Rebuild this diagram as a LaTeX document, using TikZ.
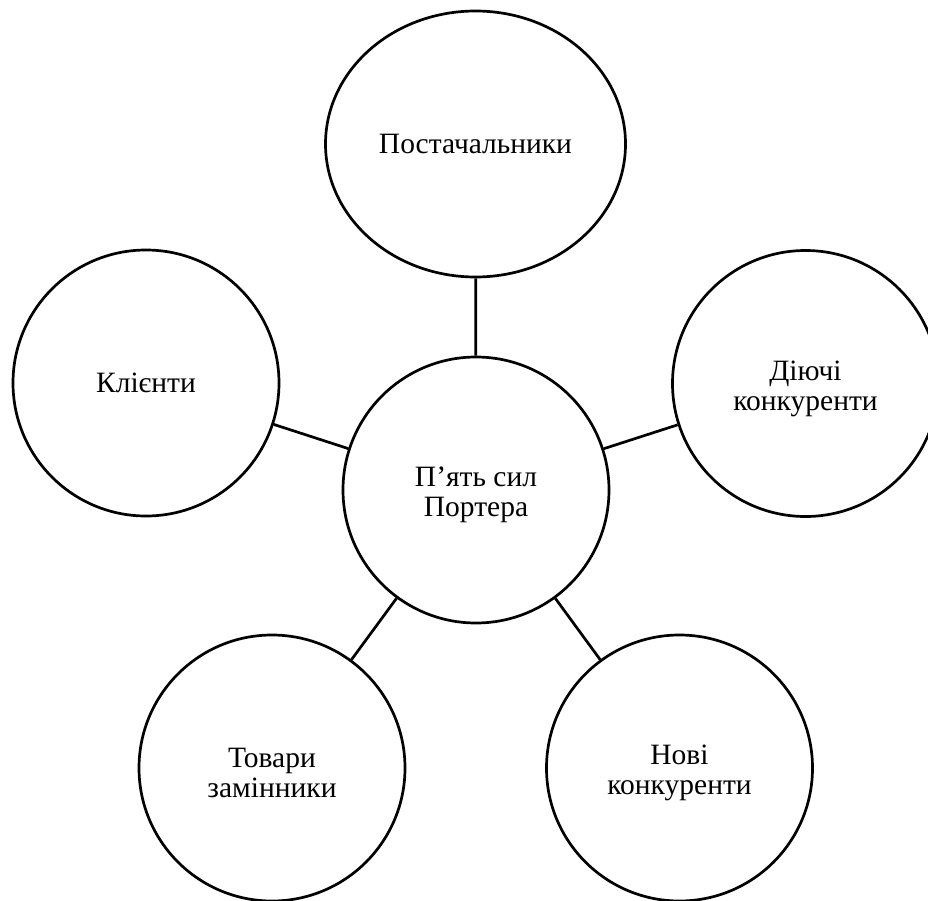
\documentclass[tikz,border=0pt]{standalone}
\usepackage{fontspec}
\setmainfont{Liberation Serif}
\usetikzlibrary{shapes.geometric}
\tikzset{
  force/.style={draw=black, line width=2.7bp, circle, minimum size=266bp, inner sep=0pt, align=center,
    font=\fontsize{29.5bp}{30bp}\selectfont},
  forceoval/.style={force, ellipse, minimum width=300bp, minimum height=266bp},
  link/.style={draw=black, line width=2.7bp}
}
\begin{document}
\begin{tikzpicture}[x=1bp,y=-1bp]
\useasboundingbox (0,0) rectangle (928,901);
\clip (0,0) rectangle (928,901);
\node[force] (center) at (476,490) {\rule{0pt}{30bp}П’ять сил\\Портера};
\node[forceoval] (top) at (475.5,144) {Постачальники};
\node[force] (left) at (146,383) {Клієнти};
\node[force] (right) at (805.5,383.5) {\rule{0pt}{30bp}Діючі\\конкуренти};
\node[force] (bl) at (272,768) {\rule{0pt}{30bp}Товари\\замінники};
\node[force] (br) at (679.5,768) {\rule{0pt}{30bp}Нові\\конкуренти};
\draw[link] (center) -- (top);
\draw[link] (center) -- (left);
\draw[link] (center) -- (right);
\draw[link] (center) -- (bl);
\draw[link] (center) -- (br);
\end{tikzpicture}
\end{document}
